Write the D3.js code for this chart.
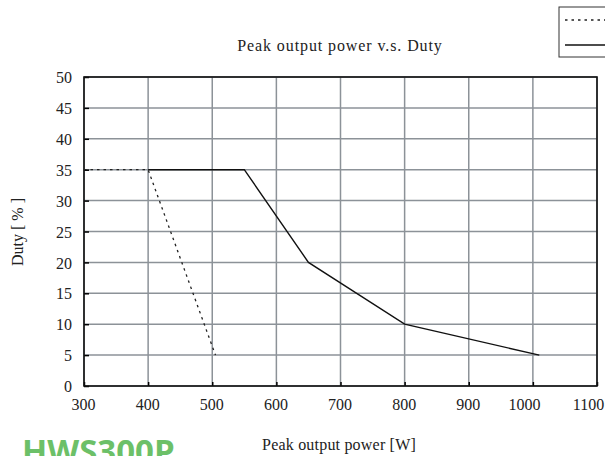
<!DOCTYPE html>
<html><head><meta charset="utf-8">
<script src="https://cdn.jsdelivr.net/npm/d3@7"></script>
<style>body{margin:0;background:#fff}svg{display:block}</style>
</head><body><svg id="c" width="605" height="456"></svg>
<script>
const xTicks = [300,400,500,600,700,800,900,1000,1100];
const yTicks = [0,5,10,15,20,25,30,35,40,45,50];
const dashedX = [300,400,505];
const dashedY = [35,35,5];
const solidX = [400,550,650,800,1010];
const solidY = [35,35,20,10,5];
const title = "Peak output power v.s. Duty";
const xLabel = "Peak output power [W]";
const yLabel = "Duty [ % ]";
const brand = "HWS300P";

const svg = d3.select("#c");
const L=84,R=597,T=77,B=386;
const x = d3.scaleLinear().domain([300,1100]).range([L,R]);
const y = d3.scaleLinear().domain([0,50]).range([B,T]);
const serif = "'Liberation Serif','Times New Roman',serif";

// grid
svg.append("g").selectAll("line").data(xTicks).join("line")
  .attr("x1",d=>x(d)).attr("x2",d=>x(d)).attr("y1",T).attr("y2",B)
  .attr("stroke","#8c9298").attr("stroke-width",1.5);
svg.append("g").selectAll("line").data(yTicks).join("line")
  .attr("y1",d=>y(d)).attr("y2",d=>y(d)).attr("x1",L).attr("x2",R)
  .attr("stroke","#8c9298").attr("stroke-width",1.5);

// axes
const xa = svg.append("g").attr("transform",`translate(0,${B})`)
  .call(d3.axisBottom(x).tickValues(xTicks).tickSize(-4).tickPadding(10).tickFormat(d3.format("d")));
const ya = svg.append("g").attr("transform",`translate(${L},0)`)
  .call(d3.axisLeft(y).tickValues(yTicks).tickSize(-5).tickPadding(12).tickFormat(d3.format("d")));
[xa,ya].forEach(a=>{
  a.select(".domain").remove();
  a.selectAll(".tick line").attr("stroke","#000").attr("stroke-width",1.5);
  a.selectAll("text").attr("font-family",serif).attr("font-size",16).attr("fill","#222");
});
xa.selectAll("text").attr("y",null).attr("dy",null).attr("y",24)
  .attr("x",d=>String(d).length>3?-9:-1);
ya.selectAll("text").attr("x",-12).attr("dy","0.35em");

// frame
svg.append("rect").attr("x",L).attr("y",T).attr("width",R-L).attr("height",B-T)
  .attr("fill","none").attr("stroke","#111").attr("stroke-width",1.6);

const line = d3.line().x(d=>x(d[0])).y(d=>y(d[1]));
svg.append("path").attr("d",line(dashedX.map((v,i)=>[v,dashedY[i]])))
  .attr("fill","none").attr("stroke","#222").attr("stroke-width",1.3).attr("stroke-dasharray","2.5,4");
svg.append("path").attr("d",line(solidX.map((v,i)=>[v,solidY[i]])))
  .attr("fill","none").attr("stroke","#111").attr("stroke-width",1.4);

// legend (clipped at right)
svg.append("rect").attr("x",559).attr("y",7).attr("width",60).attr("height",50)
  .attr("fill","#fff").attr("stroke","#333").attr("stroke-width",1);
svg.append("line").attr("x1",565).attr("x2",610).attr("y1",20).attr("y2",20)
  .attr("stroke","#222").attr("stroke-width",1.3).attr("stroke-dasharray","2.5,4");
svg.append("line").attr("x1",565).attr("x2",610).attr("y1",45).attr("y2",45)
  .attr("stroke","#111").attr("stroke-width",1.4);

svg.append("text").attr("x",340).attr("y",51).attr("text-anchor","middle")
  .attr("font-family",serif).attr("font-size",16).attr("letter-spacing",0.9).attr("fill","#222").text(title);
svg.append("text").attr("x",339).attr("y",450).attr("text-anchor","middle")
  .attr("font-family",serif).attr("font-size",16).attr("letter-spacing",0.2).attr("fill","#222").text(xLabel);
svg.append("text").attr("transform","translate(23,232) rotate(-90)").attr("text-anchor","middle")
  .attr("font-family",serif).attr("font-size",16).attr("fill","#222").text(yLabel);
svg.append("text").attr("x",22).attr("y",463)
  .attr("font-family","'Open Sans',sans-serif").attr("font-weight",700).attr("font-size",33)
  .attr("fill","#6cc068").text(brand);
</script></body></html>
